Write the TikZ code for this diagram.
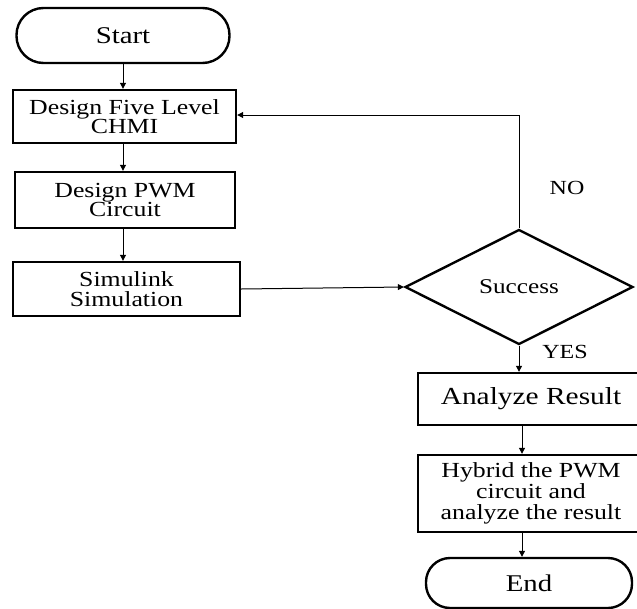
\documentclass[tikz,border=0pt]{standalone}
\usepackage{fontspec}
\setmainfont{Liberation Serif}[FakeStretch=1.2]
\usetikzlibrary{shapes.geometric,arrows.meta}
\begin{document}
\begin{tikzpicture}[x=1pt,y=-1pt,
  proc/.style={draw,line width=2.4pt,inner sep=0pt,align=center,font=\fontsize{21.5}{19.5}\selectfont},
  term/.style={draw,line width=2.4pt,inner sep=0pt,align=center,font=\fontsize{24}{22}\selectfont},
  decision/.style={draw,diamond,line width=2.4pt,inner sep=0pt,aspect=2,font=\fontsize{21}{20}\selectfont},
  lbl/.style={inner sep=0pt,font=\fontsize{20}{20}\selectfont},
  conn/.style={line width=1pt,-{Triangle[length=6pt,width=6pt]}},
  plain/.style={line width=1pt}]
\useasboundingbox (0,0) rectangle (637,608);
\clip (0,0) rectangle (637,608);
\node[term,minimum width=213pt,minimum height=55pt,rounded corners=27pt] (start) at (123,35.5) {Start};
\node[proc,minimum width=223pt,minimum height=53pt] (b1) at (124.5,116.5) {Design Five Level\\CHMI};
\node[proc,minimum width=220pt,minimum height=56pt] (b2) at (125,200) {Design PWM\\Circuit};
\node[proc,minimum width=227pt,minimum height=54pt] (b3) at (126.5,289) {Simulink\\Simulation};
\node[decision,minimum width=228pt,minimum height=115pt] (dec) at (519,287) {Success};
\node[proc,minimum width=226pt,minimum height=52pt,font=\fontsize{24.5}{22}\selectfont] (an) at (531,399) {Analyze Result};
\node[proc,minimum width=226pt,minimum height=77pt,font=\fontsize{21.5}{21}\selectfont] (hy) at (531,493.5) {Hybrid the PWM\\circuit and\\analyze the result};
\node[term,minimum width=206pt,minimum height=50pt,rounded corners=24pt] (end) at (529,583) {End};
\node[lbl] (no) at (567,188) {NO};
\node[lbl] (yes) at (565,352) {YES};
\coordinate (s1) at (123,63);
\draw[conn] (start.south -| s1) -- (b1.north -| s1);
\draw[conn] (b1.south -| s1) -- (b2.north -| s1);
\draw[conn] (b2.south -| s1) -- (b3.north -| s1);
\draw[conn] (b3.east) -- (dec.west);
\coordinate (nocorner) at (519,115);
\draw[plain] (dec.north) -- (nocorner);
\draw[conn] (nocorner) -- (b1.east |- nocorner);
\draw[conn] (dec.south) -- (dec.south |- an.north);
\coordinate (s2) at (522,430);
\draw[conn] (an.south -| s2) -- (hy.north -| s2);
\draw[conn] (hy.south -| s2) -- (end.north -| s2);
\end{tikzpicture}
\end{document}
